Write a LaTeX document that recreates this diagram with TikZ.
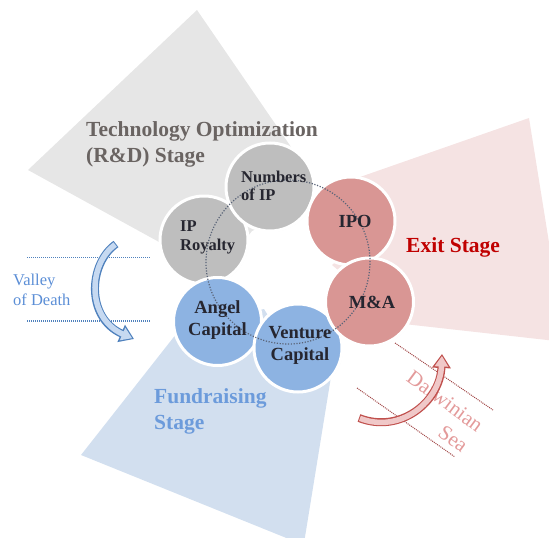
\documentclass[tikz,border=0pt]{standalone}
\usepackage{fontspec}
\setmainfont{Liberation Serif}
\usetikzlibrary{arrows.meta,shadows}
\definecolor{wedgegray}{HTML}{E6E6E6}
\definecolor{wedgered}{HTML}{F5E3E3}
\definecolor{wedgeblue}{HTML}{D2DFEF}
\definecolor{circgray}{HTML}{BEBEBE}
\definecolor{circred}{HTML}{D99694}
\definecolor{circblue}{HTML}{8DB3E2}
\definecolor{labeltext}{HTML}{262630}
\definecolor{techtext}{HTML}{6A6462}
\definecolor{exittext}{HTML}{C00000}
\definecolor{fundtext}{HTML}{6C9BDB}
\definecolor{valleytext}{HTML}{5B8ED6}
\definecolor{valleyline}{HTML}{4F81BD}
\definecolor{valleyfill}{HTML}{C6D9F1}
\definecolor{darwintext}{HTML}{E39A9A}
\definecolor{darwinline}{HTML}{A04545}
\definecolor{darwinfill}{HTML}{F0C8C8}
\definecolor{darwinout}{HTML}{C0504D}
\definecolor{ringdot}{HTML}{5A6478}
\begin{document}
\begin{tikzpicture}[x=1pt,y=-1pt,
  stagecircle/.style={circle, minimum size=88pt, inner sep=0pt, draw=white, line width=3pt,
    drop shadow={opacity=0.15, shadow xshift=0.8pt, shadow yshift=-0.8pt}},
  graylabel/.style={font=\bfseries\fontsize{16.5}{18.5}\selectfont, text=labeltext, align=left, inner sep=0pt, anchor=west},
  coloredlabel/.style={font=\bfseries\fontsize{18.5}{21.5}\selectfont, text=labeltext, align=center, inner sep=0pt},
  stagelabel/.style={font=\bfseries\fontsize{21.5}{26}\selectfont, align=left, inner sep=0pt},
  dotline/.style={line width=1.1pt, dash pattern=on 1pt off 1pt},
]
\useasboundingbox (0,0) rectangle (549,538);
\clip (0,0) rectangle (549,538);

% stage wedges
\fill[wedgegray] (197,10) -- (300,160) -- (262,226) -- (252,231) -- (240,246) -- (190,259) -- (28,170) -- cycle;
\fill[wedgered] (529,118) -- (565,342) -- (413,325) -- (380,321) -- (345,276) -- (332,265) -- (345,254) -- (340,184) -- cycle;
\fill[wedgeblue] (81,455) -- (173,338) -- (200,303) -- (250,312) -- (264,309) -- (272,322) -- (333.7,360) -- (303.7,545) -- cycle;

% stage texts
\node[stagelabel, text=techtext, anchor=north west] (tech) at (86,121) {Technology Optimization\\(R\&D) Stage};
\node[stagelabel, text=exittext, anchor=west] (exit) at (406,247) {Exit Stage};
\node[stagelabel, text=fundtext, anchor=west] (fund) at (154,411) {Fundraising\\Stage};

% circles
\node[stagecircle, fill=circgray] (royalty) at (204,240) {};
\node[stagecircle, fill=circgray] (numbers) at (270,187) {};
\node[stagecircle, fill=circred] (ipo) at (351,221) {};
\node[stagecircle, fill=circblue] (angel) at (217.5,321.5) {};
\node[stagecircle, fill=circblue] (venture) at (298,348) {};
\node[stagecircle, fill=circred] (mna) at (369.5,302) {};

% dotted ring
\node[circle, minimum size=164pt, inner sep=0pt, draw=ringdot, line width=1.2pt, dash pattern=on 1.2pt off 1.6pt] (ring) at (288,262) {};

% circle labels
\node[graylabel] (numtext) at (241,186) {Numbers\\of IP};
\node[graylabel] (roytext) at (180,237.5) {IP\\Royalty};
\node[coloredlabel] (ipotext) at (355,221) {IPO};
\node[coloredlabel] (mnatext) at (372,302) {M\&A};
\node[coloredlabel] (angeltext) at (217.5,320) {Angel\\Capital};
\node[coloredlabel] (venturetext) at (300,345.5) {Venture\\Capital};

% valley of death
\coordinate (v1a) at (27,257.5); \coordinate (v1b) at (150,257.5);
\coordinate (v2a) at (27,321); \coordinate (v2b) at (150,321);
\draw[dotline, valleyline] (v1a) -- (v1b);
\draw[dotline, valleyline] (v2a) -- (v2b);
\node[font=\fontsize{16.5}{20}\selectfont, text=valleytext, align=left, anchor=west, inner sep=0pt] (valley) at (13,290) {Valley\\of Death};
\coordinate (vs) at (116,244); \coordinate (vc1) at (88,264); \coordinate (vc2) at (86,318); \coordinate (ve) at (134,339);
\draw[line width=8pt, valleyline, -{Triangle[length=14pt,width=18pt]}] (vs) .. controls (vc1) and (vc2) .. (ve);
\draw[line width=5.5pt, valleyfill, shorten >=2pt, shorten <=1pt, -{Triangle[length=10.5pt,width=13pt]}] (vs) .. controls (vc1) and (vc2) .. (ve);

% darwinian sea
\coordinate (d1a) at (395,343); \coordinate (d1b) at (493,410);
\coordinate (d2a) at (357,388); \coordinate (d2b) at (455,457);
\node[font=\fontsize{21}{25.6}\selectfont, text=darwintext, align=right, rotate=-36.5, inner sep=0pt] (darwin) at (437.4,411.3) {Darwinian\\Sea};
\draw[dotline, darwinline, line width=1pt] (d1a) -- (d1b);
\draw[dotline, darwinline, line width=1pt] (d2a) -- (d2b);
\coordinate (ds) at (359,418); \coordinate (dc1) at (400,434); \coordinate (dc2) at (440,402); \coordinate (de) at (442,354);
\draw[line width=8pt, darwinout, -{Triangle[length=14pt,width=18pt]}] (ds) .. controls (dc1) and (dc2) .. (de);
\draw[line width=5.5pt, darwinfill, shorten >=2pt, shorten <=1pt, -{Triangle[length=10.5pt,width=13pt]}] (ds) .. controls (dc1) and (dc2) .. (de);
\end{tikzpicture}
\end{document}
